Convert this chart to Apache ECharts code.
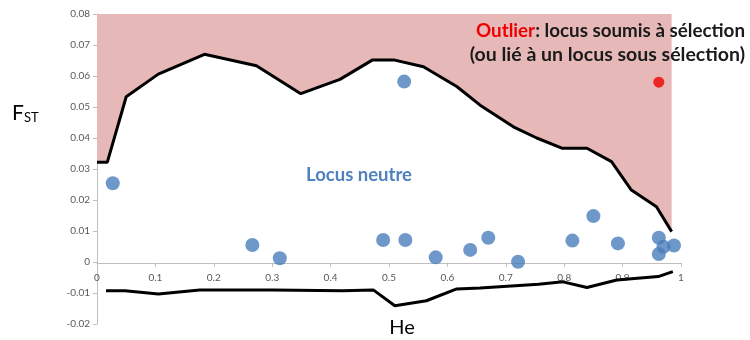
<!DOCTYPE html>
<html>
<head>
<meta charset="utf-8">
<script src="https://cdn.jsdelivr.net/npm/echarts@6/dist/echarts.min.js"></script>
<style>
  html, body { margin: 0; padding: 0; background: #fff; }
  #chart { width: 750px; height: 340px; }
</style>
</head>
<body>
<div id="chart"></div>
<script>
// Heterozygosity (He) values and FST, upper / lower 99% envelope of the neutral model
const upperHe  = [0, 0.0177, 0.05, 0.105, 0.184, 0.273, 0.349, 0.416, 0.472, 0.508, 0.559, 0.616, 0.656, 0.713, 0.753, 0.796, 0.839, 0.881, 0.915, 0.958, 0.984];
const upperFst = [0.0322, 0.0322, 0.0533, 0.0606, 0.067, 0.0633, 0.0543, 0.0589, 0.0652, 0.0652, 0.063, 0.0566, 0.0506, 0.0436, 0.040, 0.0367, 0.0367, 0.0324, 0.0232, 0.0178, 0.0098];

const lowerHe  = [0.0154, 0.048, 0.105, 0.176, 0.3, 0.42, 0.473, 0.51, 0.564, 0.616, 0.656, 0.756, 0.798, 0.839, 0.89, 0.961, 0.986];
const lowerFst = [-0.0093, -0.0093, -0.0103, -0.009, -0.009, -0.0093, -0.009, -0.0141, -0.0125, -0.0087, -0.0084, -0.0072, -0.0064, -0.0082, -0.0058, -0.0047, -0.0031];

// Observed loci
const locusHe  = [0.027, 0.266, 0.313, 0.49, 0.526, 0.528, 0.580, 0.639, 0.670, 0.721, 0.814, 0.850, 0.892, 0.962, 0.970, 0.962, 0.988];
const locusFst = [0.0254, 0.0055, 0.0012, 0.0071, 0.0582, 0.0071, 0.0015, 0.0039, 0.0078, 0.0001, 0.0069, 0.0148, 0.0060, 0.0078, 0.0049, 0.0026, 0.0053];

// Outlier shown next to the legend text
const outlierHe  = [0.962];
const outlierFst = [0.058];

const zip = (xs, ys) => xs.map((x, i) => [x, ys[i]]);

const chart = echarts.init(document.getElementById('chart'), null, { renderer: 'canvas' });
const axisGray = '#bfbfbf';
const labelGray = '#595959';
const font = 'Lato, "Open Sans", sans-serif';

chart.setOption({
  animation: false,
  grid: { left: 97, right: 69, top: 14, bottom: 16, containLabel: false },
  xAxis: {
    type: 'value', min: 0, max: 1, interval: 0.1,
    axisLine: { onZero: false, lineStyle: { color: axisGray, width: 1 } },
    axisTick: { show: true, length: 4, lineStyle: { color: axisGray } },
    axisLabel: { color: labelGray, fontSize: 10, fontFamily: font, margin: 10 },
    splitLine: { show: false },
    z: 1
  },
  yAxis: {
    type: 'value', min: -0.02, max: 0.08, interval: 0.01,
    axisLine: { show: true, lineStyle: { color: axisGray, width: 1 } },
    axisTick: { show: true, length: 4, lineStyle: { color: axisGray } },
    axisLabel: {
      color: labelGray, fontSize: 10, fontFamily: font, margin: 7,
      formatter: v => (Math.abs(v) < 1e-9 ? '0' : v.toFixed(2))
    },
    splitLine: { show: false }
  },
  series: [
    {
      name: 'upper',
      type: 'line',
      data: zip(upperHe, upperFst),
      symbol: 'none',
      lineStyle: { color: '#000', width: 3 },
      areaStyle: { origin: 'end', color: '#e6b9b8', opacity: 1 },
      z: 2
    },
    {
      name: 'lower',
      type: 'line',
      data: zip(lowerHe, lowerFst),
      symbol: 'none',
      lineStyle: { color: '#000', width: 3 },
      z: 2
    },
    {
      name: 'loci',
      type: 'scatter',
      data: zip(locusHe, locusFst),
      symbolSize: 14,
      itemStyle: { color: '#4a7ebb' },
      z: 3
    },
    {
      name: 'outlier',
      type: 'scatter',
      data: zip(outlierHe, outlierFst),
      symbolSize: 11,
      itemStyle: { color: '#ee0000' },
      z: 3
    }
  ],
  graphic: [
    {
      type: 'text', left: 12, top: 103, z: 100,
      style: {
        text: '{f|F}{s|ST}',
        rich: {
          f: { fontSize: 21, fontFamily: font, fill: '#000', verticalAlign: 'bottom' },
          s: { fontSize: 13, fontFamily: font, fill: '#000', padding: [10, 0, 0, 0], verticalAlign: 'bottom' }
        }
      }
    },
    {
      type: 'text', x: 402, y: 328, z: 100,
      style: { text: 'He', fontSize: 20, fontFamily: font, fill: '#000', align: 'center', verticalAlign: 'middle' }
    },
    {
      type: 'text', x: 359, y: 175, z: 100,
      style: { text: 'Locus neutre', fontSize: 18.5, fontWeight: 'bold', fontFamily: font, fill: '#4f81bd', align: 'center', verticalAlign: 'middle' }
    },
    {
      type: 'text', x: 745, y: 31, z: 100,
      style: {
        text: '{r|Outlier}{k|: locus soumis à sélection}',
        align: 'right', verticalAlign: 'middle',
        rich: {
          r: { fontSize: 18.8, fontWeight: 'bold', fontFamily: font, fill: '#ee0000' },
          k: { fontSize: 18.8, fontWeight: 'bold', fontFamily: font, fill: '#1a1a1a' }
        }
      }
    },
    {
      type: 'text', x: 745, y: 55, z: 100,
      style: { text: '(ou lié à un locus sous sélection)', fontSize: 19.5, fontWeight: 'bold', fontFamily: font, fill: '#1a1a1a', align: 'right', verticalAlign: 'middle' }
    }
  ]
});

// Put the He axis on the FST = 0 line, using the pixel positions of the y scale.
const zeroY = chart.convertToPixel({ yAxisIndex: 0 }, 0);
const bottomY = chart.convertToPixel({ yAxisIndex: 0 }, -0.02);
chart.setOption({ xAxis: { offset: -(bottomY - zeroY) } });
</script>
</body>
</html>
